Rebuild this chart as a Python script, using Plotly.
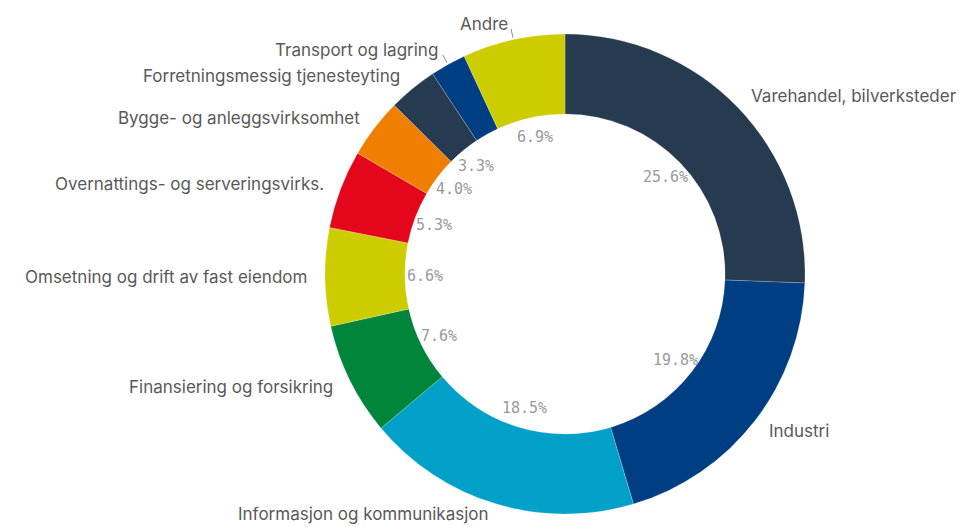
import math
import plotly.graph_objects as go

# Sector shares (%), clockwise from 12 o'clock
sectors = [
    "Varehandel, bilverksteder",
    "Industri",
    "Informasjon og kommunikasjon",
    "Finansiering og forsikring",
    "Omsetning og drift av fast eiendom",
    "Overnattings- og serveringsvirks.",
    "Bygge- og anleggsvirksomhet",
    "Forretningsmessig tjenesteyting",
    "Transport og lagring",
    "Andre",
]
shares = [25.6, 19.8, 18.5, 7.6, 6.6, 5.3, 4.0, 3.3, 2.4, 6.9]
colors = [
    "#263a50", "#003e83", "#00a0c8", "#00853b", "#cccc00",
    "#e4061b", "#f07e00", "#263a50", "#003e83", "#cccc00",
]
# sectors whose label gets a short leader tick
ticked = {"Transport og lagring", "Andre"}

W, H = 961, 527
CX, CY, R = 565, 274, 240          # donut centre and outer radius (px)
HOLE = 0.667
LABEL_R = 256                      # radius of sector names
PCT_R = 140                        # radius of percentage labels (inside hole)
MIN_PCT = 3.0                      # smaller slices get no percentage label

fig = go.Figure(go.Pie(
    labels=sectors,
    values=shares,
    hole=HOLE,
    sort=False,
    direction="clockwise",
    rotation=0,
    marker=dict(colors=colors, line=dict(color="rgba(255,255,255,0.35)", width=0.6)),
    textinfo="none",
    hoverinfo="label+percent",
    showlegend=False,
    domain=dict(x=[(CX - R) / W, (CX + R) / W], y=[1 - (CY + R) / H, 1 - (CY - R) / H]),
))


def to_paper(px, py):
    return px / W, 1 - py / H


total = sum(shares)
annotations = []
shapes = []
cum = 0.0
for name, v in zip(sectors, shares):
    mid = (cum + v / 2) / total * 2 * math.pi
    cum += v
    sx, sy = math.sin(mid), -math.cos(mid)

    # sector name outside the ring, kept inside the canvas
    px_, py_ = CX + LABEL_R * sx, CY + LABEL_R * sy
    py_ = min(max(py_, 12), H - 13)
    lx, ly = to_paper(px_, py_)
    annotations.append(dict(
        x=lx, y=ly, xref="paper", yref="paper", text=name, showarrow=False,
        xanchor="left" if sx >= 0 else "right", yanchor="middle",
        font=dict(family="Inter, Roboto, sans-serif", size=17, color="#595959"),
    ))
    if name in ticked:
        x0, y0 = to_paper(CX + 242 * sx, CY + 242 * sy)
        x1, y1 = to_paper(CX + 251 * sx, CY + 251 * sy)
        shapes.append(dict(type="line", xref="paper", yref="paper",
                           x0=x0, y0=y0, x1=x1, y1=y1,
                           line=dict(color="#8c8c8c", width=1)))

    # percentage just inside the hole
    if v >= MIN_PCT:
        px, py = to_paper(CX + PCT_R * sx, CY + PCT_R * sy)
        annotations.append(dict(
            x=px, y=py, xref="paper", yref="paper", text=f"{v:.1f}%",
            showarrow=False, xanchor="center", yanchor="middle",
            font=dict(family="DejaVu Sans Mono, monospace", size=15, color="#9a9a9a"),
        ))

fig.update_layout(
    width=W, height=H,
    margin=dict(l=0, r=0, t=0, b=0),
    paper_bgcolor="white", plot_bgcolor="white",
    annotations=annotations, shapes=shapes,
)

fig.write_html("out.html")
